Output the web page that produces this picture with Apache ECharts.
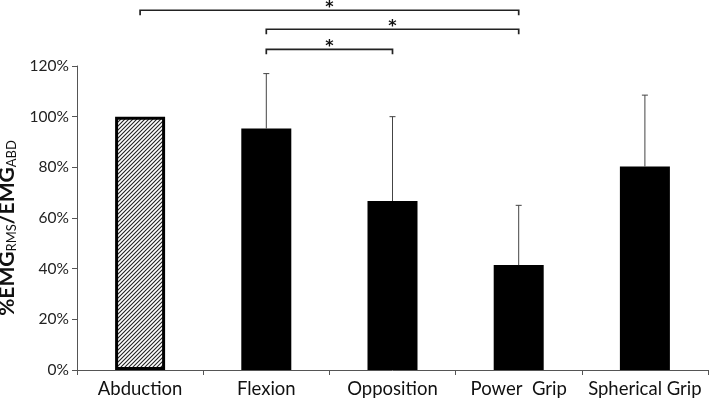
<!DOCTYPE html>
<html><head><meta charset="utf-8">
<script src="https://cdn.jsdelivr.net/npm/echarts@6/dist/echarts.min.js"></script>
<style>html,body{margin:0;padding:0;background:#fff}#c{width:709px;height:401px}</style>
</head><body><div id="c"></div>
<script>
const categories = ['Abduction', 'Flexion', 'Opposition', 'Power  Grip', 'Spherical Grip'];
const means = [100, 95.3, 66.7, 41.4, 80.3];
const errUpper = [null, 117, 100, 65, 108.5];
const yTicks = [0, 20, 40, 60, 80, 100, 120];
const bracketFrom = [0, 1, 1];
const bracketTo = [3, 3, 2];
const bracketLevel = [142, 134.5, 126.6];
const bracketLabel = ['*', '*', '*'];

const FONT = 'Lato, "Liberation Sans", sans-serif';

// hatch pattern
const pc = document.createElement('canvas');
pc.width = 4; pc.height = 4;
const pctx = pc.getContext('2d');
pctx.fillStyle = '#fff'; pctx.fillRect(0, 0, 4, 4);
pctx.strokeStyle = '#222'; pctx.lineWidth = 1.1;
pctx.beginPath();
pctx.moveTo(0, 4); pctx.lineTo(4, 0);
pctx.moveTo(-1, 1); pctx.lineTo(1, -1);
pctx.moveTo(3, 5); pctx.lineTo(5, 3);
pctx.stroke();

const barData = means.map((v, i) => i === 0 ? {
  value: v,
  itemStyle: { color: { image: pc, repeat: 'repeat' }, borderColor: '#000', borderWidth: 3 }
} : { value: v, itemStyle: { color: '#000' } });

const errData = means.map((m, i) => [i, m, errUpper[i]]).filter(d => d[2] != null);
const bracketData = bracketFrom.map((f, i) => [f, bracketTo[i], bracketLevel[i], bracketLabel[i]]);

const chart = echarts.init(document.getElementById('c'));
chart.setOption({
  animation: false,
  backgroundColor: '#fff',
  grid: { left: 77, right: 1, top: 66, bottom: 31, containLabel: false, outerBoundsMode: 'none' },
  xAxis: {
    type: 'category',
    data: categories,
    axisLine: { lineStyle: { color: '#555', width: 1 } },
    axisTick: { show: true, length: 5, lineStyle: { color: '#555' } },
    axisLabel: { color: '#111', fontSize: 18.5, fontFamily: FONT, margin: 10, interval: 0, hideOverlap: false }
  },
  yAxis: {
    type: 'value', min: 0, max: 120, interval: 20,
    splitLine: { show: false },
    axisLine: { show: true, lineStyle: { color: '#555', width: 1 } },
    axisTick: { show: true, length: 5, lineStyle: { color: '#555' } },
    axisLabel: { color: '#222', fontSize: 15.5, fontFamily: FONT, margin: 8,
      formatter: v => yTicks.includes(v) ? v + '%' : '' },
    name: '{b|%EMG}{s|RMS}{b|/EMG}{s|ABD}',
    nameLocation: 'middle',
    nameGap: 48,
    nameRotate: 90,
    nameTextStyle: {
      padding: [0, 20, 0, 0],
      rich: {
        b: { fontSize: 21, fontWeight: 'bold', fontFamily: FONT, color: '#111' },
        s: { fontSize: 13, fontFamily: FONT, color: '#111', verticalAlign: 'bottom', padding: [9, 0, 0, 0] }
      }
    }
  },
  series: [
    { type: 'bar', data: barData, barWidth: 50 },
    {
      type: 'custom', data: errData, z: 5, clip: false,
      renderItem: (params, api) => {
        const p0 = api.coord([api.value(0), api.value(1)]);
        const p1 = api.coord([api.value(0), api.value(2)]);
        const st = { stroke: '#444', lineWidth: 1 };
        return { type: 'group', children: [
          { type: 'line', shape: { x1: p0[0], y1: p0[1], x2: p1[0], y2: p1[1] }, style: st },
          { type: 'line', shape: { x1: p1[0] - 3, y1: p1[1], x2: p1[0] + 3, y2: p1[1] }, style: st }
        ] };
      }
    },
    {
      type: 'custom', data: bracketData, z: 5, clip: false,
      renderItem: (params, api) => {
        const a = api.coord([api.value(0), api.value(2)]);
        const b = api.coord([api.value(1), api.value(2)]);
        const lbl = bracketData[params.dataIndex][3];
        return { type: 'group', children: [
          { type: 'polyline', shape: { points: [[a[0], a[1] + 5], [a[0], a[1]], [b[0], b[1]], [b[0], b[1] + 5]] },
            style: { stroke: '#222', lineWidth: 1.7, fill: null } },
          { type: 'text', style: { text: lbl, x: (a[0] + b[0]) / 2, y: a[1] - 2, align: 'center', verticalAlign: 'middle',
            fontSize: 16, fontWeight: 'bold', fontFamily: '"DejaVu Sans", sans-serif', fill: '#111' } }
        ] };
      }
    }
  ]
});
</script></body></html>
